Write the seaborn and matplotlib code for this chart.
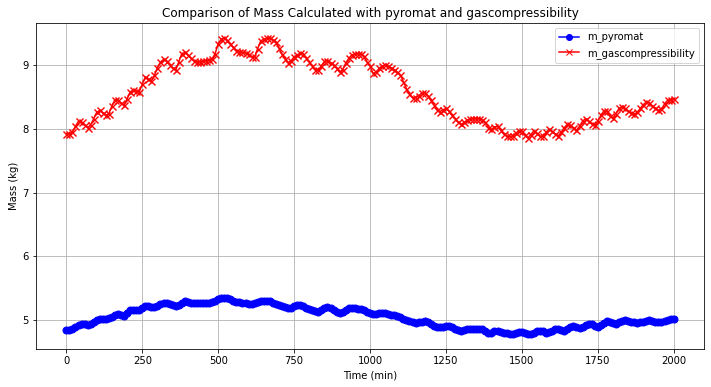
import numpy as np
import pandas as pd
import matplotlib
matplotlib.use("Agg")
import matplotlib.pyplot as plt
import seaborn as sns

# Time axis (min), sampled every 10 min
time_min = list(range(0, 2001, 10))

m_pyromat = [
    4.84, 4.84, 4.86, 4.89, 4.92, 4.93, 4.93, 4.92, 4.93, 4.96,
    4.99, 5.01, 5.02, 5.02, 5.03, 5.05, 5.08, 5.09, 5.08, 5.06,
    5.10, 5.15, 5.16, 5.16, 5.16, 5.19, 5.21, 5.21, 5.20, 5.20,
    5.22, 5.25, 5.27, 5.27, 5.25, 5.23, 5.22, 5.24, 5.27, 5.29,
    5.28, 5.27, 5.265, 5.265, 5.265, 5.27, 5.27, 5.27, 5.275, 5.29,
    5.32, 5.34, 5.35, 5.34, 5.32, 5.30, 5.28, 5.275, 5.27, 5.26,
    5.25, 5.25, 5.26, 5.28, 5.29, 5.30, 5.30, 5.29, 5.27, 5.25,
    5.23, 5.21, 5.20, 5.19, 5.19, 5.22, 5.24, 5.23, 5.21, 5.19,
    5.17, 5.15, 5.14, 5.13, 5.15, 5.18, 5.20, 5.19, 5.16, 5.13,
    5.11, 5.12, 5.15, 5.18, 5.185, 5.18, 5.175, 5.17, 5.16, 5.13,
    5.11, 5.09, 5.095, 5.10, 5.105, 5.105, 5.09, 5.08, 5.07, 5.06,
    5.04, 5.02, 5.00, 4.98, 4.96, 4.95, 4.96, 4.97, 4.975, 4.96,
    4.93, 4.91, 4.89, 4.88, 4.89, 4.90, 4.90, 4.88, 4.86, 4.84,
    4.83, 4.84, 4.85, 4.86, 4.86, 4.86, 4.86, 4.85, 4.83, 4.80,
    4.79, 4.82, 4.83, 4.81, 4.79, 4.79, 4.78, 4.78, 4.79, 4.81,
    4.815, 4.79, 4.775, 4.78, 4.80, 4.82, 4.83, 4.82, 4.80, 4.81,
    4.83, 4.85, 4.85, 4.84, 4.83, 4.86, 4.89, 4.905, 4.89, 4.87,
    4.89, 4.92, 4.935, 4.93, 4.91, 4.895, 4.92, 4.95, 4.975, 4.97,
    4.95, 4.94, 4.96, 4.98, 4.99, 4.98, 4.97, 4.96, 4.95, 4.96,
    4.97, 4.98, 4.99, 4.98, 4.97, 4.96, 4.96, 4.98, 5.00, 5.01,
    5.01,
]

m_gascompressibility = [
    7.92, 7.92, 7.95, 8.04, 8.12, 8.10, 8.06, 8.02, 8.06, 8.16,
    8.26, 8.29, 8.25, 8.21, 8.24, 8.36, 8.46, 8.45, 8.40, 8.37,
    8.47, 8.58, 8.61, 8.59, 8.58, 8.70, 8.81, 8.79, 8.75, 8.84,
    8.96, 9.05, 9.09, 9.06, 9.01, 8.95, 8.92, 9.05, 9.18, 9.20,
    9.16, 9.11, 9.07, 9.05, 9.05, 9.06, 9.07, 9.08, 9.10, 9.18,
    9.34, 9.41, 9.43, 9.39, 9.33, 9.28, 9.23, 9.21, 9.20, 9.19,
    9.17, 9.13, 9.13, 9.26, 9.38, 9.41, 9.42, 9.42, 9.40, 9.37,
    9.27, 9.17, 9.10, 9.04, 9.07, 9.13, 9.16, 9.19, 9.18, 9.11,
    9.05, 8.99, 8.93, 8.92, 8.99, 9.06, 9.07, 9.04, 9.01, 8.95,
    8.89, 8.93, 9.03, 9.11, 9.16, 9.18, 9.18, 9.17, 9.14, 9.05,
    8.99, 8.87, 8.89, 8.95, 8.99, 9.00, 8.98, 8.96, 8.93, 8.89,
    8.85, 8.74, 8.63, 8.55, 8.49, 8.49, 8.52, 8.56, 8.57, 8.52,
    8.45, 8.38, 8.30, 8.27, 8.30, 8.32, 8.28, 8.21, 8.16, 8.11,
    8.07, 8.10, 8.14, 8.15, 8.16, 8.16, 8.16, 8.14, 8.10, 8.02,
    7.99, 8.03, 8.04, 7.98, 7.92, 7.89, 7.88, 7.88, 7.93, 7.97,
    7.96, 7.90, 7.86, 7.91, 7.97, 7.93, 7.88, 7.88, 7.95, 7.99,
    7.96, 7.92, 7.89, 7.95, 8.02, 8.07, 8.06, 8.02, 7.98, 8.04,
    8.12, 8.16, 8.12, 8.08, 8.06, 8.12, 8.21, 8.28, 8.28, 8.20,
    8.17, 8.24, 8.32, 8.35, 8.32, 8.28, 8.25, 8.23, 8.26, 8.32,
    8.38, 8.42, 8.41, 8.36, 8.32, 8.29, 8.31, 8.39, 8.45, 8.46,
    8.47,
]

series_labels = ["m_pyromat", "m_gascompressibility"]
title_text = "Comparison of Mass Calculated with pyromat and gascompressibility"
xlabel_text = "Time (min)"
ylabel_text = "Mass (kg)"

df = pd.DataFrame({
    "time": time_min,
    "m_pyromat": m_pyromat,
    "m_gascompressibility": m_gascompressibility,
})

plt.rcParams["font.family"] = ["DejaVu Sans"]

fig = plt.figure(figsize=(711 / 72, 387 / 72), dpi=72)
ax = fig.add_axes([36 / 711, 1 - 349 / 387, (704 - 36) / 711, (349 - 23) / 387])

sns.lineplot(data=df, x="time", y="m_pyromat", ax=ax, color="blue",
             marker="o", markersize=7, markeredgecolor="blue",
             markeredgewidth=1.0, linewidth=1.5, label=series_labels[0])
sns.lineplot(data=df, x="time", y="m_gascompressibility", ax=ax, color="red",
             marker="x", markersize=7, markeredgecolor="red",
             markeredgewidth=1.4, linewidth=1.5, label=series_labels[1])

ax.set_title(title_text, fontsize=12)
ax.set_xlabel(xlabel_text, fontsize=10)
ax.set_ylabel(ylabel_text, fontsize=10)
ax.tick_params(labelsize=10)
ax.grid(True, color="#b0b0b0", linewidth=0.8)
ax.set_axisbelow(True)
leg = ax.legend(loc="upper right", fontsize=10)
for h in leg.legend_handles:
    h.set_markersize(6)
    h.set_markeredgewidth(1.0)

fig.savefig("out.png", dpi=72)
